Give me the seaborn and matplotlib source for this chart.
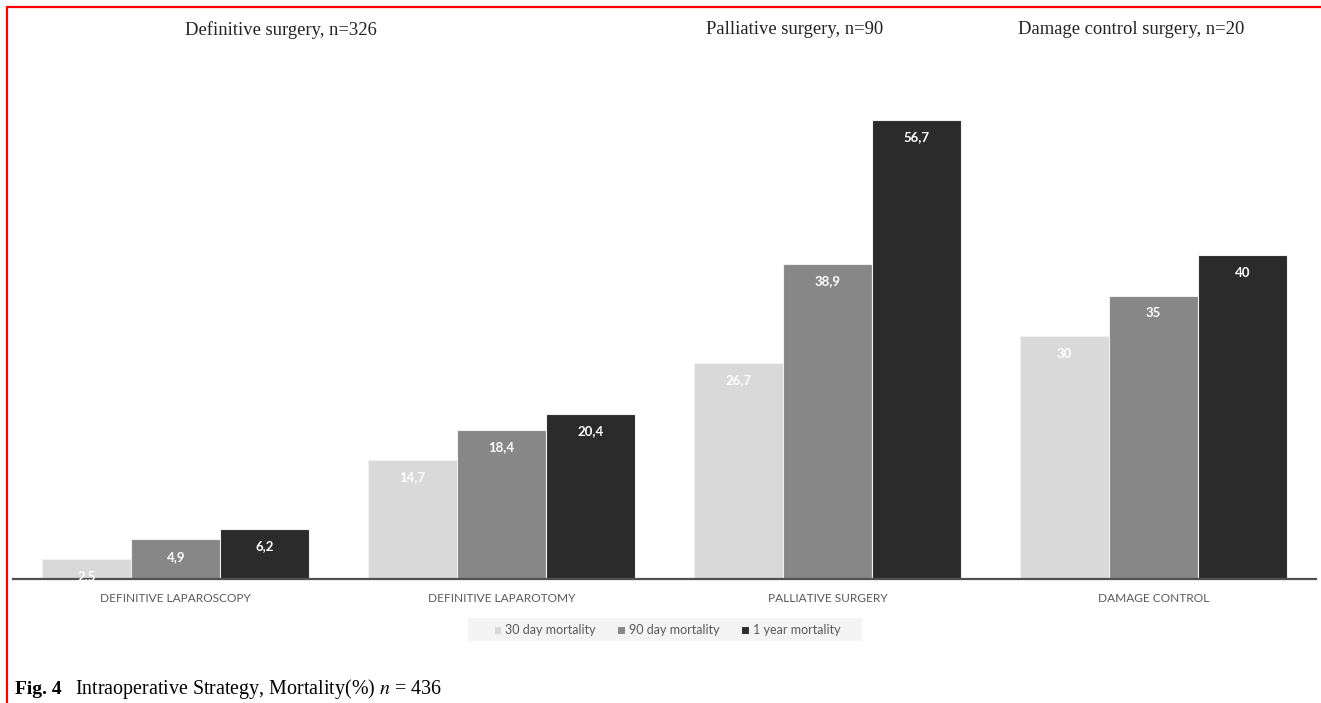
import matplotlib
matplotlib.use("Agg")
import matplotlib.pyplot as plt
import pandas as pd
import seaborn as sns
from matplotlib.lines import Line2D
from matplotlib.patches import Rectangle

# data
categories = ["DEFINITIVE LAPAROSCOPY", "DEFINITIVE LAPAROTOMY", "PALLIATIVE SURGERY", "DAMAGE CONTROL"]
series = ["30 day mortality", "90 day mortality", "1 year mortality"]
mort_30d = [2.5, 14.7, 26.7, 30]
mort_90d = [4.9, 18.4, 38.9, 35]
mort_1y = [6.2, 20.4, 56.7, 40]
group_titles = ["Definitive surgery, n=326", "Palliative surgery, n=90", "Damage control surgery, n=20"]
caption_bold = "Fig. 4"
caption_text = "Intraoperative Strategy, Mortality(%) $n$ = 436"

colors = ["#d9d9d9", "#878787", "#2b2b2b"]

rows = []
for s, vals in zip(series, [mort_30d, mort_90d, mort_1y]):
    for c, v in zip(categories, vals):
        rows.append({"category": c, "series": s, "value": v})
df = pd.DataFrame(rows)

sns.set_theme(style="white")
plt.rcParams["font.family"] = ["Lato", "DejaVu Sans"]
plt.rcParams["mathtext.fontset"] = "stix"

W, H = 1321, 703
fig = plt.figure(figsize=(W / 100, H / 100), dpi=100)
ax = fig.add_axes([13 / W, 1 - 579 / H, 1303 / W, (579 - 93) / H])

sns.barplot(data=df, x="category", y="value", hue="series", order=categories,
            hue_order=series, palette=colors, width=0.82, gap=0,
            edgecolor="#f0f0f0", linewidth=0.8, legend=True, ax=ax)

ax.set_ylim(0, 60)
ax.set_xlim(-0.5, 3.5)
ax.set_xlabel("")
ax.set_ylabel("")
ax.set_yticks([])
for side in ["left", "right", "top"]:
    ax.spines[side].set_visible(False)
ax.spines["bottom"].set_color("#505050")
ax.spines["bottom"].set_linewidth(1.6)
ax.tick_params(axis="x", length=0, pad=10, labelsize=8.6, labelcolor="#595959")

for cont in ax.containers:
    labels = [f"{v:g}".replace(".", ",") for v in cont.datavalues]
    ax.bar_label(cont, labels=labels, padding=-17, color="white",
                 fontsize=9.5, fontweight="bold")

# legend with a light grey band behind it
fig.add_artist(Rectangle((468 / W, 1 - 641 / H), 394 / W, 23 / H, transform=fig.transFigure,
                         facecolor="#f4f4f4", edgecolor="none", zorder=0))
handles, labs = ax.get_legend_handles_labels()
leg = ax.legend(handles, labs, loc="center", bbox_to_anchor=(667 / W, 1 - 630 / H),
                bbox_transform=fig.transFigure, ncol=3, frameon=False,
                handlelength=0.6, handleheight=0.6, handletextpad=0.35,
                columnspacing=1.7, fontsize=9)
for t in leg.get_texts():
    t.set_color("#595959")

serif = ["Liberation Serif", "DejaVu Serif"]
for title, x in zip(group_titles, [281, 795, 1131]):
    fig.text(x / W, 1 - 30 / H, title, ha="center", va="center",
             family=serif, fontsize=13.4, color="#222222")

fig.text(15 / W, 1 - 689 / H, caption_bold, ha="left", va="center",
         family=serif, fontsize=14, fontweight="bold", color="black")
fig.text(75 / W, 1 - 689 / H, caption_text, ha="left", va="center",
         family=serif, fontsize=14.4, color="black")

# red frame at top and left
fig.add_artist(Line2D([7 / W, 7 / W], [0, 1 - 7 / H], color="red", lw=1.6, transform=fig.transFigure))
fig.add_artist(Line2D([7 / W, 1], [1 - 7 / H, 1 - 7 / H], color="red", lw=1.6, transform=fig.transFigure))

fig.savefig("out.png", dpi=100, facecolor="white")
